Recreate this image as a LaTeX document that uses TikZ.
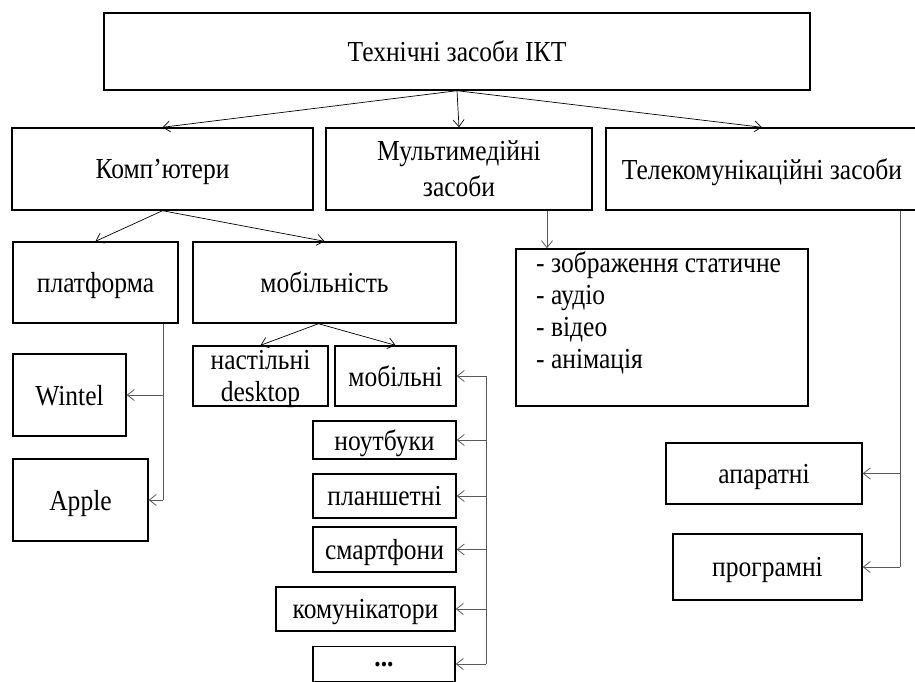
\documentclass[tikz,border=0pt]{standalone}
\usepackage{fontspec}
\setmainfont{Liberation Serif}[FakeStretch=0.88]
\usetikzlibrary{arrows.meta,calc}
\tikzset{
  box/.style={draw, line width=1.4pt, inner sep=0pt, align=center, text depth=0pt, font=\fontsize{29}{32}\selectfont},
  txt/.style={inner sep=0pt, align=left, font=\fontsize{29}{32}\selectfont},
  con/.style={line width=0.7pt, -{Straight Barb[length=7pt,width=11pt]}},
  elb/.style={line width=0.8pt, draw=black!65},
  elbarr/.style={elb, -{Straight Barb[length=7pt,width=11pt]}, draw=black!65},
}
\begin{document}
\begin{tikzpicture}[x=1pt,y=-1pt]
\useasboundingbox (0,0) rectangle (915,681);
% nodes
\node[box, minimum width=706, minimum height=77] (top) at (457,51.5) {Технічні засоби ІКТ};
\node[box, minimum width=301, minimum height=82] (comp) at (162.5,169) {Комп’ютери};
\node[box, minimum width=266, minimum height=82, font=\fontsize{29}{36}\selectfont] (mult) at (459,169) {Мультимедійні\\засоби};
\node[box, minimum width=312, minimum height=82] (tele) at (762,169) {Телекомунікаційні засоби};
\node[box, minimum width=165, minimum height=81] (platf) at (95.5,282.5) {платформа};
\node[box, minimum width=263, minimum height=81] (mobil) at (324.5,282.5) {мобільність};
\node[box, minimum width=113, minimum height=82] (wintel) at (69.5,395) {Wintel};
\node[box, minimum width=135, minimum height=82] (apple) at (80.5,500) {Apple};
\node[box, minimum width=135, minimum height=60] (nastil) at (260.5,376) {настільні\\desktop};
\node[box, minimum width=121, minimum height=60] (mobilni) at (395.5,376) {мобільні};
\node[box, minimum width=143, minimum height=38] (noutb) at (384.5,440) {ноутбуки};
\node[box, minimum width=143, minimum height=44] (plansh) at (384.5,496) {планшетні};
\node[box, minimum width=143, minimum height=45] (smart) at (384.5,549.5) {смартфони};
\node[box, minimum width=179, minimum height=44] (komun) at (365.5,609) {комунікатори};
\node[box, minimum width=142, minimum height=35] (dots) at (384,664) {\textbf{...}};
\node[box, minimum width=292, minimum height=157] (list) at (662,327.5) {};
\node[txt, anchor=north west] (listtxt) at (536,252) {- зображення статичне\\- аудіо\\- відео\\- анімація};
\node[box, minimum width=196, minimum height=61] (apar) at (764,473.5) {апаратні};
\node[box, minimum width=189, minimum height=66] (progr) at (767.5,567) {програмні};
% bus coordinates
\coordinate (pbus) at (163,0);
\coordinate (mbus) at (486,0);
\coordinate (lbus) at (547,0);
\coordinate (tbus) at (900,0);
% connectors
\draw[con] (top.south) -- (comp.north);
\draw[con] (top.south) -- (mult.north);
\draw[con] (top.south) -- (tele.north);
\draw[con] (comp.south) -- (platf.north);
\draw[con] (comp.south) -- (mobil.north);
\draw[con] ([xshift=-6pt]mobil.south) -- (nastil.north);
\draw[con] ([xshift=-6pt]mobil.south) -- (mobilni.north);
% platform bus
\draw[elb] (platf.south -| pbus) -- (apple.east -| pbus);
\draw[elbarr] (wintel.east -| pbus) -- (wintel.east);
\draw[elbarr] (apple.east -| pbus) -- (apple.east);
% mobile bus
\draw[elb] (mobilni.east -| mbus) -- (dots.east -| mbus);
\draw[elbarr] (mobilni.east -| mbus) -- (mobilni.east);
\draw[elbarr] (noutb.east -| mbus) -- (noutb.east);
\draw[elbarr] (plansh.east -| mbus) -- (plansh.east);
\draw[elbarr] (smart.east -| mbus) -- (smart.east);
\draw[elbarr] (komun.east -| mbus) -- (komun.east);
\draw[elbarr] (dots.east -| mbus) -- (dots.east);
% multimedia
\draw[elbarr] (mult.south -| lbus) -- (list.north -| lbus);
% telecom bus
\draw[elb] (tele.south -| tbus) -- (progr.east -| tbus);
\draw[elbarr] (apar.east -| tbus) -- (apar.east);
\draw[elbarr] (progr.east -| tbus) -- (progr.east);
\end{tikzpicture}
\end{document}
